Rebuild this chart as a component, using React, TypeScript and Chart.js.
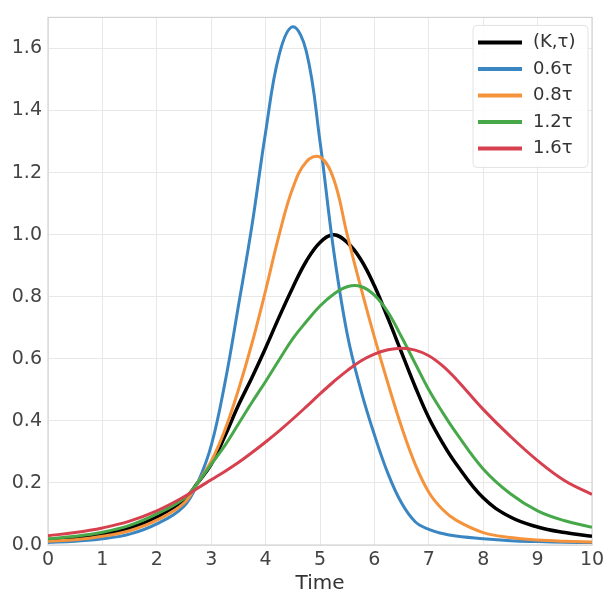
import React, { useEffect, useRef } from "react";
import { Chart, registerables } from "chart.js";

Chart.register(...registerables);

// Sample times (x) shared by all series
const time = [0, 0.5, 1, 1.5, 2, 2.5, 2.75, 3, 3.25, 3.5, 3.75, 4, 4.25, 4.5, 4.75, 5, 5.25, 5.5, 5.75, 6, 6.25, 6.5, 6.75, 7, 7.25, 7.5, 8, 8.5, 9, 9.5, 10];

// Series values
const base = [0.016, 0.022, 0.034, 0.054, 0.09, 0.145, 0.2, 0.26, 0.35, 0.45, 0.54, 0.635, 0.735, 0.83, 0.915, 0.975, 1.0, 0.975, 0.92, 0.835, 0.73, 0.62, 0.51, 0.41, 0.33, 0.262, 0.152, 0.09, 0.058, 0.04, 0.028];
const tau06 = [0.008, 0.012, 0.02, 0.035, 0.068, 0.125, 0.2, 0.32, 0.52, 0.77, 1.03, 1.33, 1.58, 1.67, 1.59, 1.3, 0.95, 0.68, 0.5, 0.355, 0.23, 0.135, 0.075, 0.05, 0.037, 0.029, 0.02, 0.014, 0.011, 0.009, 0.008];
const tau08 = [0.012, 0.017, 0.028, 0.046, 0.08, 0.135, 0.2, 0.27, 0.37, 0.5, 0.65, 0.82, 1.0, 1.15, 1.235, 1.25, 1.18, 1.0, 0.83, 0.67, 0.52, 0.38, 0.26, 0.17, 0.115, 0.08, 0.04, 0.024, 0.016, 0.012, 0.01];
const tau12 = [0.02, 0.028, 0.041, 0.063, 0.1, 0.15, 0.2, 0.26, 0.32, 0.39, 0.46, 0.527, 0.597, 0.665, 0.72, 0.77, 0.808, 0.832, 0.833, 0.805, 0.75, 0.67, 0.585, 0.5, 0.428, 0.362, 0.245, 0.165, 0.11, 0.078, 0.057];
const tau16 = [0.03, 0.04, 0.055, 0.077, 0.11, 0.155, 0.183, 0.21, 0.237, 0.266, 0.298, 0.332, 0.368, 0.406, 0.446, 0.487, 0.526, 0.562, 0.593, 0.615, 0.629, 0.634, 0.628, 0.61, 0.578, 0.535, 0.437, 0.35, 0.272, 0.207, 0.163];

const seriesLabels = ["(K,τ)", "0.6τ", "0.8τ", "1.2τ", "1.6τ"];
const seriesColors = ["#000000", "#3a86c2", "#f5923c", "#47a84a", "#d6404f"];
const seriesValues = [base, tau06, tau08, tau12, tau16];

const xTitle = "Time";
const FONT = "'DejaVu Sans', sans-serif";

const framePlugin = {
  id: "frame",
  beforeDatasetsDraw(chart: any) {
    const { ctx, chartArea } = chart;
    ctx.save();
    ctx.strokeStyle = "#d4d4d4";
    ctx.lineWidth = 1.2;
    ctx.strokeRect(chartArea.left, chartArea.top, chartArea.right - chartArea.left, chartArea.bottom - chartArea.top);
    ctx.restore();
  },
};

const legendPlugin = {
  id: "innerLegend",
  afterDraw(chart: any) {
    const { ctx, chartArea } = chart;
    const boxLeft = chartArea.right - 119;
    const boxTop = chartArea.top + 8;
    const boxW = 115;
    const boxH = 142;
    ctx.save();
    ctx.beginPath();
    if (ctx.roundRect) ctx.roundRect(boxLeft, boxTop, boxW, boxH, 4);
    else ctx.rect(boxLeft, boxTop, boxW, boxH);
    ctx.fillStyle = "rgba(255,255,255,0.85)";
    ctx.fill();
    ctx.strokeStyle = "#e2e2e2";
    ctx.lineWidth = 1;
    ctx.stroke();
    ctx.font = `18px ${FONT}`;
    ctx.textBaseline = "middle";
    ctx.textAlign = "left";
    seriesLabels.forEach((lab, i) => {
      const y = boxTop + 17 + i * 26.5;
      ctx.beginPath();
      ctx.strokeStyle = seriesColors[i];
      ctx.lineWidth = 4;
      ctx.lineCap = "butt";
      ctx.moveTo(boxLeft + 5, y);
      ctx.lineTo(boxLeft + 49, y);
      ctx.stroke();
      ctx.fillStyle = "#333333";
      ctx.fillText(lab, boxLeft + 60, y);
    });
    ctx.restore();
  },
};

export default function App() {
  const ref = useRef<HTMLCanvasElement | null>(null);
  useEffect(() => {
    document.body.style.margin = "0";
    if (!ref.current) return;
    const datasets = seriesValues.map((vals, i) => ({
      label: seriesLabels[i],
      data: time.map((t, j) => ({ x: t, y: vals[j] })),
      borderColor: seriesColors[i],
      backgroundColor: seriesColors[i],
      borderWidth: i === 0 ? 3.5 : 3,
      pointRadius: 0,
      tension: 0.4,
      fill: false,
      order: 5 - i,
    }));
    const chart = new Chart(ref.current, {
      type: "line",
      data: { datasets },
      options: {
        animation: false,
        responsive: false,
        maintainAspectRatio: false,
        layout: { padding: { top: 7, right: 18, left: 0, bottom: 0 } },
        plugins: { legend: { display: false }, tooltip: { enabled: false } },
        scales: {
          x: {
            type: "linear",
            min: 0,
            max: 10,
            ticks: { stepSize: 1, color: "#444", font: { family: FONT, size: 19 }, padding: 4, maxRotation: 0 },
            grid: { color: "#e8e8e8", lineWidth: 1, drawTicks: false },
            border: { display: false },
            title: { display: true, text: xTitle, color: "#333", font: { family: FONT, size: 20 }, padding: { top: 0, bottom: 6 } },
            afterFit: (s: any) => { s.height = 57; },
          },
          y: {
            type: "linear",
            min: 0,
            max: 1.7,
            ticks: {
              stepSize: 0.2,
              color: "#444",
              font: { family: FONT, size: 19 },
              padding: 6,
              callback: (v: any) => Number(v).toFixed(1),
            },
            afterBuildTicks: (s: any) => { s.ticks = s.ticks.filter((t: any) => t.value <= 1.6 + 1e-9); },
            grid: { color: "#e8e8e8", lineWidth: 1, drawTicks: false },
            border: { display: false },
            afterFit: (s: any) => { s.width = 48; },
          },
        },
      },
      plugins: [framePlugin, legendPlugin],
    });
    return () => chart.destroy();
  }, []);
  return (
    <div style={{ width: 610, height: 602 }}>
      <canvas ref={ref} width={610} height={602} style={{ width: 610, height: 602, display: "block" }} />
    </div>
  );
}
